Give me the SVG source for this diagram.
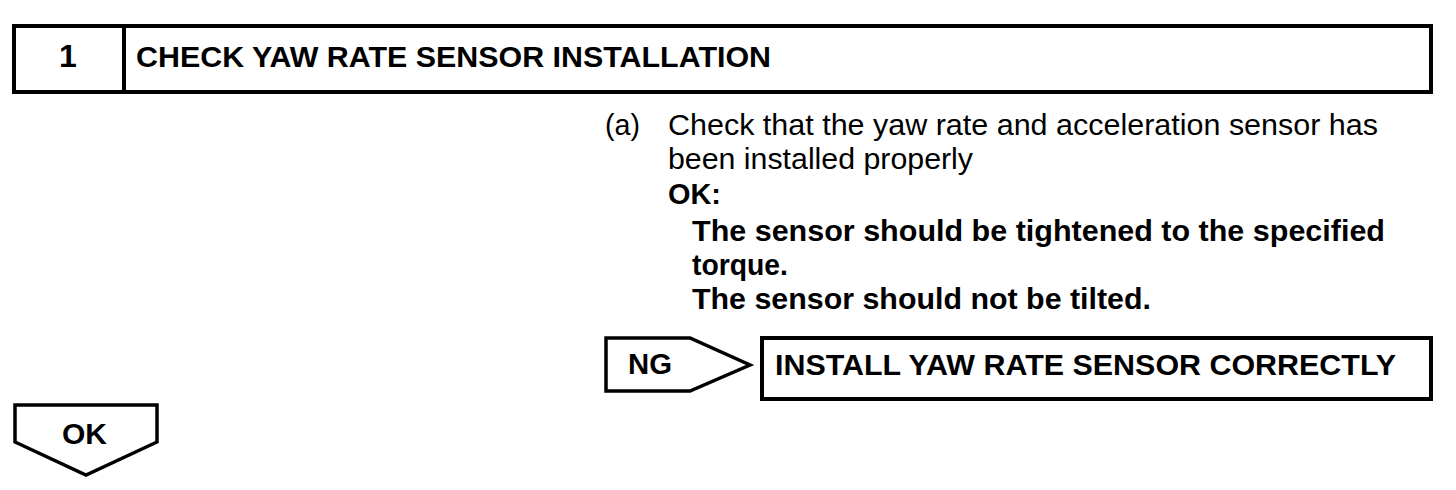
<svg xmlns="http://www.w3.org/2000/svg" width="1456" height="490" viewBox="0 0 1456 490">
<style>
.box{fill:#fff;stroke:#000;stroke-width:4}
.thin{fill:#fff;stroke:#000;stroke-width:3.5}
.b{font-family:"Liberation Sans",Arial,sans-serif;font-weight:bold;fill:#000}
.r{font-family:"Liberation Sans",Arial,sans-serif;fill:#000}
</style>
<rect width="1456" height="490" fill="#fff"/>
<g id="header">
<rect class="box" x="14" y="26" width="1417" height="66"/>
<line x1="124" y1="26" x2="124" y2="92" stroke="#000" stroke-width="4"/>
<text class="b" x="68" y="67" font-size="32" text-anchor="middle">1</text>
<text class="b" x="136" y="67" font-size="29" textLength="635" lengthAdjust="spacingAndGlyphs">CHECK YAW RATE SENSOR INSTALLATION</text>
</g>
<g id="instructions">
<text class="r" x="605" y="135" font-size="30" textLength="35" lengthAdjust="spacingAndGlyphs">(a)</text>
<text class="r" x="668" y="135" font-size="30" textLength="710" lengthAdjust="spacingAndGlyphs">Check that the yaw rate and acceleration sensor has</text>
<text class="r" x="668" y="169" font-size="30" textLength="305" lengthAdjust="spacingAndGlyphs">been installed properly</text>
<text class="b" x="668" y="204" font-size="29" textLength="53" lengthAdjust="spacingAndGlyphs">OK:</text>
<text class="b" x="692" y="241" font-size="29" textLength="693" lengthAdjust="spacingAndGlyphs">The sensor should be tightened to the specified</text>
<text class="b" x="692" y="275" font-size="29" textLength="96" lengthAdjust="spacingAndGlyphs">torque.</text>
<text class="b" x="692" y="309" font-size="29" textLength="459" lengthAdjust="spacingAndGlyphs">The sensor should not be tilted.</text>
</g>
<g id="ng">
<polygon class="thin" points="606,338 690,338 750,365 690,391 606,391"/>
<text class="b" x="628" y="374" font-size="29" textLength="44" lengthAdjust="spacingAndGlyphs">NG</text>
</g>
<g id="ng-result">
<rect class="box" x="762" y="338" width="669" height="61"/>
<text class="b" x="775" y="375" font-size="29" textLength="621" lengthAdjust="spacingAndGlyphs">INSTALL YAW RATE SENSOR CORRECTLY</text>
</g>
<g id="ok">
<polygon class="thin" points="15,405 157,405 157,442 86,475 15,442"/>
<text class="b" x="62" y="444" font-size="29" textLength="45" lengthAdjust="spacingAndGlyphs">OK</text>
</g>
<g id="connectors"></g>
</svg>
